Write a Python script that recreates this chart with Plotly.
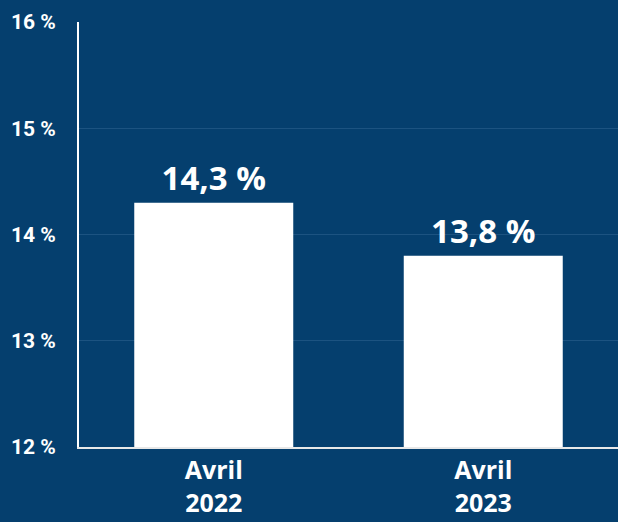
import plotly.graph_objects as go

categories = ["Avril<br>2022", "Avril<br>2023"]
values = [14.3, 13.8]
tick_vals = [12, 13, 14, 15, 16]
tick_text = ["12 %", "13 %", "14 %", "15 %", "16 %"]
value_labels = [f"{v:.1f}".replace(".", ",") + " %" for v in values]

bg = "#053f6e"
axis_min = tick_vals[0]

fig = go.Figure(
    go.Bar(
        x=categories,
        y=[v - axis_min for v in values],
        base=axis_min,
        marker=dict(color="white", line=dict(width=0)),
        text=value_labels,
        textposition="outside",
        textfont=dict(family="Open Sans", size=33, color="white", weight="bold"),
        cliponaxis=False,
        hoverinfo="skip",
    )
)

fig.update_layout(
    width=618,
    height=522,
    paper_bgcolor=bg,
    plot_bgcolor=bg,
    margin=dict(l=79, r=0, t=22, b=75),
    bargap=0.41,
    showlegend=False,
    xaxis=dict(
        showline=True,
        linecolor="#e8e8e8",
        linewidth=2,
        tickfont=dict(family="Open Sans", size=25, color="white", weight="bold"),
        ticks="",
        showgrid=False,
    ),
    yaxis=dict(
        range=[12, 16],
        tickvals=tick_vals,
        ticktext=tick_text,
        showline=True,
        linecolor="white",
        linewidth=2,
        showgrid=True,
        gridcolor="#1c5381",
        gridwidth=1,
        zeroline=False,
        ticks="outside",
        ticklen=17,
        tickcolor=bg,
        tickfont=dict(family="Roboto", size=21, color="white", weight="bold"),
    ),
)

fig.write_html(
    "out.html",
    config={"displayModeBar": False},
    post_script="document.body.style.margin='0';document.body.style.background='%s';" % bg,
)
